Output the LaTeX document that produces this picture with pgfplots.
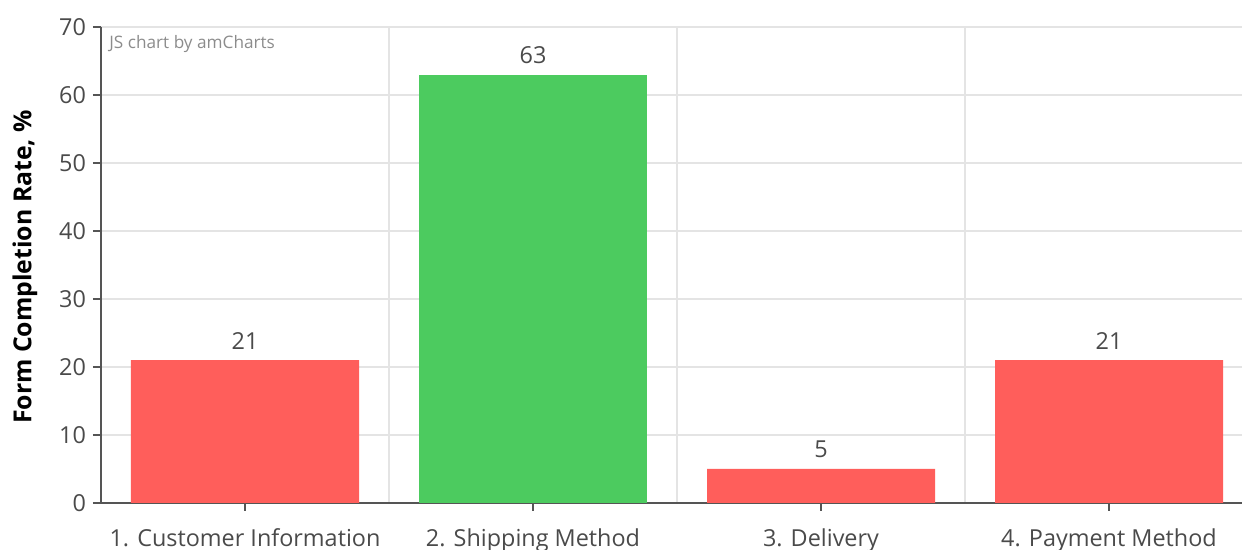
\documentclass[border=0pt]{standalone}
\usepackage{pgfplots}
\pgfplotsset{compat=1.18}
\usepackage{fontspec}
\setmainfont{Open Sans}
\definecolor{barred}{HTML}{FF5E5B}
\definecolor{bargreen}{HTML}{4CCB5F}
\definecolor{txt}{HTML}{4A4A4A}
\definecolor{gridc}{HTML}{E4E4E4}
\definecolor{axc}{HTML}{555555}
\begin{document}
\begin{tikzpicture}
\useasboundingbox (0pt,0pt) rectangle (621pt,275pt);
\clip (0pt,0pt) rectangle (621pt,275pt);
\begin{axis}[
  at={(50.5pt,23.5pt)}, anchor=south west,
  scale only axis, width=576pt, height=238pt,
  xmin=-0.5, xmax=3.5, ymin=0, ymax=70,
  ybar, bar width=114pt, bar shift=0pt,
  axis lines=left, axis line style={axc, line width=1.2pt, -},
  xtick={0,1,2,3},
  xticklabels={1. Customer Information, 2. Shipping Method, 3. Delivery, 4. Payment Method},
  minor xtick={-0.5,0.5,1.5,2.5,3.5},
  xminorgrids=true, ymajorgrids=true,
  grid style={gridc, line width=0.6pt},
  minor grid style={gridc, line width=0.6pt},
  ytick={0,10,...,70},
  major tick length=4pt, minor tick length=0pt,
  tick style={axc, line width=0.8pt},
  xtick align=outside, ytick align=outside,
  tick label style={font=\fontsize{11.7}{13}\selectfont, color=txt},
  /pgf/number format/assume math mode=true,
  xticklabel style={yshift=-5.5pt},
  ylabel={\textbf{Form Completion Rate, \%}},
  ylabel style={font=\fontsize{12.4}{14}\selectfont, color=black, xshift=-1pt, yshift=4pt},
  nodes near coords,
  every node near coord/.append style={font=\fontsize{11.7}{13}\selectfont, color=txt, yshift=2pt},
  clip=false,
]
\addplot[fill=barred, draw=none] coordinates {(0,21) (2,5) (3,21)};
\addplot[fill=bargreen, draw=none] coordinates {(1,63)};
\node[anchor=north west, font=\fontsize{8.6}{10}\selectfont, color=black!45, inner sep=0pt] at (axis cs:-0.5,70) [xshift=4pt, yshift=-4pt] {JS chart by amCharts};
\end{axis}
\end{tikzpicture}
\end{document}
